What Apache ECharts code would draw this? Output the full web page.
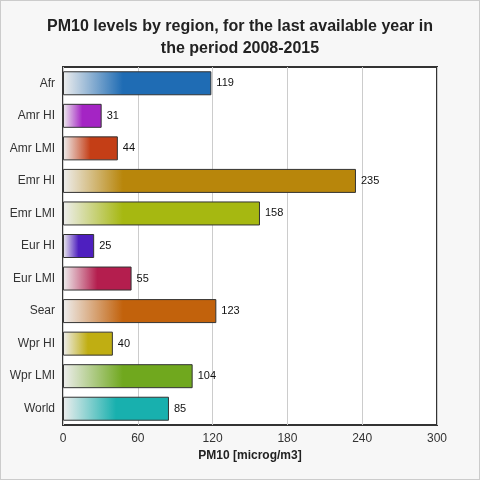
<!DOCTYPE html>
<html><head><meta charset="utf-8">
<script src="https://cdn.jsdelivr.net/npm/echarts@6/dist/echarts.min.js"></script>
<style>html,body{margin:0;padding:0;background:#fff}#c{width:478px;height:478px;border:1px solid #ccc;background:#f7f7f7}</style>
</head><body><div id="c"></div>
<script>
const categories=["Afr","Amr HI","Amr LMI","Emr HI","Emr LMI","Eur HI","Eur LMI","Sear","Wpr HI","Wpr LMI","World"];
const values=[119,31,44,235,158,25,55,123,40,104,85];
const colors=["#1f6cb4","#a424c4","#c43e16","#b8860b","#a6b811","#4e1fbf","#b41e4e","#c2620c","#c0ae12","#70a81e","#18b0ae"];
const xTicks=[0,60,120,180,240,300];
const chart=echarts.init(document.getElementById('c'));
chart.setOption({
 backgroundColor:'#f7f7f7',
 title:{text:'PM10 levels by region, for the last available year in\nthe period 2008-2015',left:'center',top:10,textStyle:{fontFamily:'Liberation Sans',fontSize:16,fontWeight:'bold',color:'#222',lineHeight:22}},
 grid:{left:62,right:42,top:66,bottom:54,show:true,borderColor:'#333',borderWidth:2,backgroundColor:'#fff'},
 xAxis:{type:'value',min:xTicks[0],max:xTicks[xTicks.length-1],interval:60,name:'PM10 [microg/m3]',nameLocation:'middle',nameGap:24,
  nameTextStyle:{fontFamily:'Liberation Sans',fontWeight:'bold',fontSize:12,color:'#222'},
  axisLabel:{fontFamily:'Liberation Sans',fontSize:12,color:'#333'},axisLine:{show:false},axisTick:{show:false},
  splitLine:{lineStyle:{color:'#ccc'}}},
 yAxis:{type:'category',data:categories,inverse:true,axisLabel:{fontFamily:'Liberation Sans',fontSize:12,color:'#333'},axisTick:{show:false},axisLine:{show:false}},
 series:[{type:'bar',barWidth:24,data:values.map((v,i)=>({value:v,itemStyle:{color:new echarts.graphic.LinearGradient(0,0,1,0,[{offset:0,color:'#eeeeee'},{offset:Math.min(0.5,60/v*0.8),color:colors[i]},{offset:1,color:colors[i]}]),borderColor:'#333',borderWidth:1}})),
  label:{show:true,position:'right',fontFamily:'Liberation Sans',fontSize:11,color:'#111'}}]
});
</script></body></html>
